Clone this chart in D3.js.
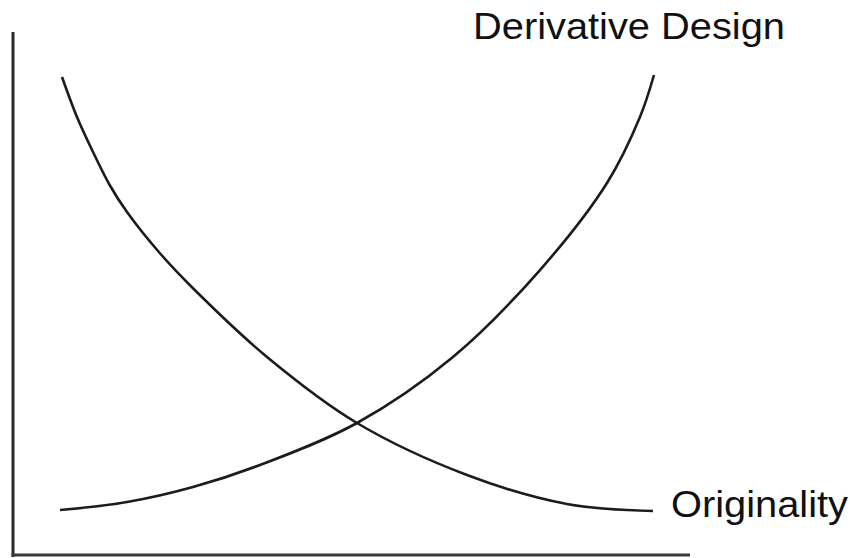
<!DOCTYPE html>
<html>
<head>
<meta charset="utf-8">
<script src="https://cdn.jsdelivr.net/npm/d3@7"></script>
<style>
  html, body { margin: 0; padding: 0; background: #fff; }
  svg { display: block; }
  text { font-family: "Liberation Sans", Arial, Helvetica, sans-serif; fill: #111; }
</style>
</head>
<body>
<svg id="chart" width="850" height="558"></svg>
<script>
// Two trade-off curves on an unlabelled 0–100 frame.
const derivativeX = [6.94, 16.84, 26.59, 36.48, 50.81, 64.99, 77.84, 87.74, 92.61, 94.68];
const derivativeY = [8.60, 10.13, 13.00, 17.21, 25.24, 37.86, 54.49, 71.13, 83.75, 91.78];

const originalityX = [7.24, 9.45, 11.82, 14.30, 16.84, 21.70, 26.59, 37.52, 50.81, 67.06, 81.83, 94.53];
const originalityY = [91.40, 83.75, 77.06, 70.70, 65.58, 57.70, 51.00, 37.86, 25.24, 15.30, 9.75, 8.41];

const seriesNames = ["Derivative Design", "Originality"];

const svg = d3.select("#chart");

const x = d3.scaleLinear().domain([0, 100]).range([13, 690]);
const y = d3.scaleLinear().domain([0, 100]).range([555, 32]);

// Axes: plain lines without ticks
svg.append("line")
  .attr("x1", x(0)).attr("x2", x(0))
  .attr("y1", y(100)).attr("y2", y(0) + 2)
  .attr("stroke", "#2a2a2a").attr("stroke-width", 3);
svg.append("line")
  .attr("x1", x(0) - 1.5).attr("x2", x(100))
  .attr("y1", y(0)).attr("y2", y(0))
  .attr("stroke", "#3a3a3a").attr("stroke-width", 3);

const line = d3.line()
  .x(d => x(d[0]))
  .y(d => y(d[1]))
  .curve(d3.curveCatmullRom.alpha(0.5));

const series = [
  d3.zip(derivativeX, derivativeY),
  d3.zip(originalityX, originalityY)
];

svg.selectAll("path.curve")
  .data(series)
  .join("path")
  .attr("class", "curve")
  .attr("d", line)
  .attr("fill", "none")
  .attr("stroke", "#1c1c1c")
  .attr("stroke-width", 2.6)
  .attr("stroke-linecap", "butt");

// Curve labels
svg.append("text")
  .attr("x", 473).attr("y", 39)
  .attr("font-size", 36)
  .attr("textLength", 312)
  .attr("lengthAdjust", "spacingAndGlyphs")
  .text(seriesNames[0]);
svg.append("text")
  .attr("x", 671).attr("y", 517)
  .attr("font-size", 36)
  .attr("textLength", 177)
  .attr("lengthAdjust", "spacingAndGlyphs")
  .text(seriesNames[1]);
</script>
</body>
</html>
